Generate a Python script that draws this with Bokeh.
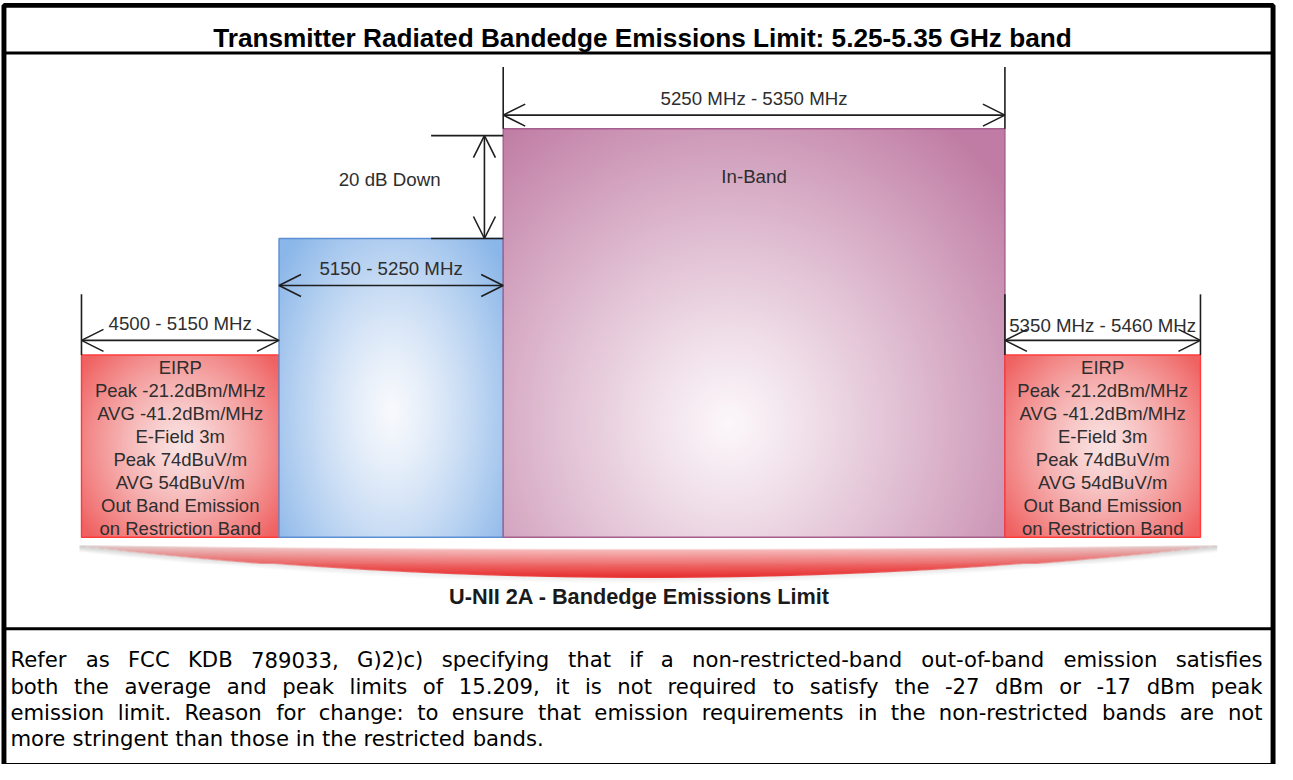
import numpy as np
from bokeh.plotting import figure
from bokeh.models import Arrow, OpenHead, ColumnDataSource, Range1d
from bokeh.core.properties import value
from bokeh.embed import file_html
from bokeh.resources import INLINE

# ---------------- data ----------------
title_text = "Transmitter Radiated Bandedge Emissions Limit: 5.25-5.35 GHz band"
footer_label = "U-NII 2A - Bandedge Emissions Limit"
band_labels = ["4500 - 5150 MHz", "5150 - 5250 MHz", "5250 MHz - 5350 MHz", "5350 MHz - 5460 MHz"]
band_kind = ["restricted", "unii1", "inband", "restricted"]
# schematic (not to scale) band edges / levels, in diagram units (y grows downwards)
band_left = [82, 282, 509, 1017]
band_right = [282, 509, 1017, 1215]
band_top = [362, 243, 131, 362]
band_floor = 548
in_band_label = "In-Band"
down_label = "20 dB Down"
limit_lines = ["EIRP", "Peak -21.2dBm/MHz", "AVG -41.2dBm/MHz", "E-Field 3m",
               "Peak 74dBuV/m", "AVG 54dBuV/m", "Out Band Emission", "on Restriction Band"]
note_lines = [
    "Refer as FCC KDB 789033, G)2)c) specifying that if a non-restricted-band out-of-band emission satisfies",
    "both the average and peak limits of 15.209, it is not required to satisfy the -27 dBm or -17 dBm peak",
    "emission limit. Reason for change: to ensure that emission requirements in the non-restricted bands are not",
    "more stringent than those in the restricted bands.",
]

# ---------------- layout ----------------
REF_W, REF_H = 1293, 780
W, H = 1277, 764
S = W / REF_W
FONT = "Liberation Sans"
NOTE_FONT = "DejaVu Sans"
INK = "#1e1e1e"
LBL = "#2e2e2e"


def Y(v):
    return REF_H - v


def fs(px):
    return value(f"{px * S:.1f}px")


p = figure(width=W, height=H, x_range=Range1d(0, REF_W), y_range=Range1d(0, REF_H),
           x_axis_type=None, y_axis_type=None, toolbar_location=None,
           output_backend="svg", min_border=0, outline_line_color=None,
           background_fill_color="white", border_fill_color="white")


def pack(rgb, alpha):
    h, w = alpha.shape
    img = np.zeros((h, w), dtype=np.uint32)
    v = img.view(dtype=np.uint8).reshape((h, w, 4))
    v[..., 0:3] = np.clip(rgb, 0, 255).astype(np.uint8)
    v[..., 3] = np.clip(alpha * 255, 0, 255).astype(np.uint8)
    return np.ascontiguousarray(img[::-1])


def radial(wpx, hpx, cx, cy, rx, ry, c_in, c_out, pw):
    xs = (np.arange(wpx) + 0.5) / wpx
    ys = (np.arange(hpx) + 0.5) / hpx
    X, Yg = np.meshgrid(xs, ys)
    r = np.sqrt(((X - cx) / rx) ** 2 + ((Yg - cy) / ry) ** 2)
    t = (np.clip(r, 0, 1) ** pw)[..., None]
    ci = np.array(c_in, float)[None, None, :]
    co = np.array(c_out, float)[None, None, :]
    return ci * (1 - t) + co * t


styles = {
    "restricted": dict(cx=0.5, cy=0.5, rx=0.62, ry=0.72, c_in=(250, 226, 226), c_out=(240, 98, 98), pw=1.3, line="#ff3a3a"),
    "unii1": dict(cx=0.5, cy=0.58, rx=0.64, ry=0.8, c_in=(247, 249, 253), c_out=(138, 182, 233), pw=1.3, line="#5d8fd4"),
    "inband": dict(cx=0.45, cy=0.72, rx=0.72, ry=0.92, c_in=(252, 247, 250), c_out=(192, 124, 164), pw=1.1, line="#a55f8d"),
}

for l, r, t, k in zip(band_left, band_right, band_top, band_kind):
    st = styles[k]
    wpx, hpx = int(r - l), int(band_floor - t)
    rgb = radial(wpx, hpx, st["cx"], st["cy"], st["rx"], st["ry"], st["c_in"], st["c_out"], st["pw"])
    p.image_rgba(image=[pack(rgb, np.ones((hpx, wpx)))], x=l, y=Y(band_floor), dw=wpx, dh=hpx)
    p.quad(left=l, right=r, top=Y(t), bottom=Y(band_floor), fill_alpha=0,
           line_color=st["line"], line_width=1.4)

# ---------------- swoosh under the bands ----------------
sx0, sx1, sy0, sy1 = 80, 1232, 550, 600
xc, half = (band_left[0] + band_right[-1] + 15) / 2, (band_right[-1] + 15 - band_left[0]) / 2
xs = np.arange(sx0, sx1) + 0.5
ys = np.arange(sy0, sy1) + 0.5
X, Yg = np.meshgrid(xs, ys)
u = (X - xc) / half
q = np.clip(1 - u ** 2, 0, 1)
top = 557 + 4 * q
bot = 558 + 32 * q
v = np.clip((Yg - top) / (bot - top + 1e-6), 0, 1)
hf = q ** 0.6
light = np.stack([215 + 37 * hf, 215 + 15 * hf, 215 + 15 * hf], axis=-1)
red = np.array([232, 44, 44], float)
s = (hf * (0.2 + 0.8 * v ** 0.9))[..., None]
rgb = light * (1 - s) + red[None, None, :] * s
inside = np.clip(np.minimum(Yg - top, bot - Yg) + 0.5, 0, 1)
d = Yg - bot
shadow = np.where((d > 0) & (d < 6), 0.5 * (1 - d / 6) * (0.35 + 0.65 * (1 - hf)), 0)
grey = np.full_like(rgb, 150.0)
alpha = inside + (1 - inside) * shadow
mix = (inside / np.maximum(alpha, 1e-6))[..., None]
rgb = rgb * mix + grey * (1 - mix)
p.image_rgba(image=[pack(rgb, alpha)], x=sx0, y=Y(sy1), dw=sx1 - sx0, dh=sy1 - sy0)

# ---------------- dimension lines ----------------
arrow_rows = [347, 291, 117, 347]
label_rows = [330, 274, 100, 332]
for l, r, ay in zip(band_left, band_right, arrow_rows):
    p.add_layout(Arrow(start=OpenHead(size=22, line_width=1.6, line_color=INK),
                       end=OpenHead(size=22, line_width=1.6, line_color=INK),
                       x_start=l, y_start=Y(ay), x_end=r, y_end=Y(ay),
                       line_width=1.6, line_color=INK))

ext_x = [band_left[0], band_right[2], band_right[3], band_left[2], band_right[2]]
ext_y0 = [300, 300, 300, 68, 68]
ext_y1 = [band_top[0], band_top[3], band_top[3], band_top[2], band_top[2]]
p.segment(x0=ext_x, y0=[Y(v_) for v_ in ext_y0], x1=ext_x, y1=[Y(v_) for v_ in ext_y1],
          line_color=INK, line_width=1.6)

# 20 dB down marker
dx = 490
p.segment(x0=[436, 436], y0=[Y(138), Y(band_top[1])], x1=[band_left[2], band_left[2]],
          y1=[Y(138), Y(band_top[1])], line_color=INK, line_width=1.6)
p.add_layout(Arrow(start=OpenHead(size=22, line_width=1.6, line_color=INK),
                   end=OpenHead(size=22, line_width=1.6, line_color=INK),
                   x_start=dx, y_start=Y(138), x_end=dx, y_end=Y(band_top[1]),
                   line_width=1.6, line_color=INK))

lab = ColumnDataSource(dict(
    x=[(l + r) / 2 for l, r in zip(band_left, band_right)] + [394, (band_left[2] + band_right[2]) / 2],
    y=[Y(v_) for v_ in label_rows] + [Y(183), Y(180)],
    t=band_labels + [down_label, in_band_label]))
p.text(x="x", y="y", text="t", source=lab, text_font=value(FONT), text_font_size=fs(18.9),
       text_color=LBL, text_align="center", text_baseline="middle")

# limit text in the restricted bands
lim_rows = [375, 398.5, 422, 445.5, 469, 492.5, 516, 539.5]
lx, ly, lt = [], [], []
for l, r, k in zip(band_left, band_right, band_kind):
    if k == "restricted":
        for row, txt in zip(lim_rows, limit_lines):
            lx.append((l + r) / 2)
            ly.append(Y(row))
            lt.append(txt)
p.text(x=lx, y=ly, text=lt, text_font=value(FONT), text_font_size=fs(18.7),
       text_color=LBL, text_align="center", text_baseline="middle")

p.text(x=[647], y=[Y(608)], text=[footer_label], text_font=value(FONT), text_font_size=fs(22),
       text_font_style="bold", text_color="#1a1a1a", text_align="center", text_baseline="middle")

# ---------------- frame + title ----------------
p.quad(left=3.5, right=1288.5, top=Y(5), bottom=Y(781), fill_alpha=0, line_color="black", line_width=5 * S)
p.segment(x0=[3.5, 3.5], y0=[Y(53.5), Y(641.5)], x1=[1288.5, 1288.5], y1=[Y(53.5), Y(641.5)],
          line_color="black", line_width=3 * S)
p.text(x=[650], y=[Y(38)], text=[title_text], text_font=value(FONT), text_font_size=fs(26.5),
       text_font_style="bold", text_color="black", text_align="center", text_baseline="alphabetic")

# ---------------- justified note (DejaVu Sans advance widths, per 1000 em) ----------------
AW = {' ': 318, '(': 390, ')': 390, ',': 318, '-': 361, '.': 318, '/': 337, ':': 337,
      'A': 684, 'B': 686, 'C': 698, 'D': 770, 'E': 632, 'F': 575, 'G': 775, 'H': 752, 'I': 295,
      'J': 295, 'K': 656, 'L': 557, 'M': 863, 'N': 748, 'O': 787, 'P': 603, 'Q': 787, 'R': 695,
      'S': 635, 'T': 611, 'U': 732, 'V': 684, 'W': 989, 'X': 685, 'Y': 611, 'Z': 685,
      'a': 613, 'b': 635, 'c': 550, 'd': 635, 'e': 615, 'f': 352, 'g': 635, 'h': 634, 'i': 278,
      'j': 278, 'k': 579, 'l': 278, 'm': 974, 'n': 634, 'o': 612, 'p': 635, 'q': 635, 'r': 411,
      's': 521, 't': 392, 'u': 634, 'v': 592, 'w': 818, 'x': 592, 'y': 592, 'z': 525}
for ch in "0123456789":
    AW[ch] = 636


def tw(txt, size):
    return sum(AW.get(c, 600) for c in txt) / 1000 * size


NOTE_FS = 21.5
note_left, note_right = 10, 1278
note_base = [673, 700, 726.5, 753]
wx, wy, wt = [], [], []
for i, (line, base) in enumerate(zip(note_lines, note_base)):
    words = line.split(" ")
    widths = [tw(w_, NOTE_FS) for w_ in words]
    if i < len(note_lines) - 1:
        gap = (note_right - note_left - sum(widths)) / (len(words) - 1)
        gap = max(gap, 0.22 * NOTE_FS)
    else:
        gap = tw(" ", NOTE_FS)
    x = note_left
    for w_, wd in zip(words, widths):
        wx.append(x)
        wy.append(Y(base))
        wt.append(w_)
        x += wd + gap
p.text(x=wx, y=wy, text=wt, text_font=value(NOTE_FONT), text_font_size=fs(NOTE_FS),
       text_color="black", text_align="left", text_baseline="alphabetic")

open("out.html", "w").write(file_html(p, INLINE))
